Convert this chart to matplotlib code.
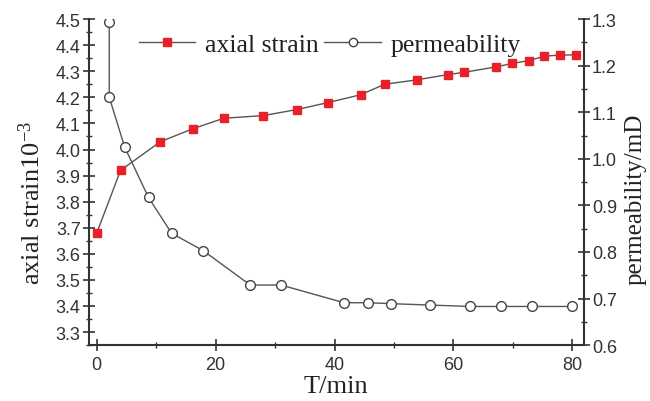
import matplotlib
matplotlib.use("Agg")
import matplotlib.pyplot as plt
from matplotlib.ticker import MultipleLocator
from matplotlib.lines import Line2D

# Data
T_strain = [0, 4.0, 10.7, 16.2, 21.4, 28.0, 33.6, 38.9, 44.4, 48.4, 53.8,
            59.0, 61.8, 67.2, 69.9, 72.7, 75.3, 77.9, 80.6]
strain = [3.68, 3.92, 4.03, 4.08, 4.12, 4.13, 4.153, 4.18, 4.21, 4.25, 4.267,
          4.287, 4.296, 4.317, 4.33, 4.341, 4.358, 4.362, 4.363]

T_perm = [2.1, 2.1, 4.7, 8.7, 12.6, 17.9, 25.8, 31.0, 41.6, 45.7, 49.5,
          56.1, 62.8, 68.0, 73.2, 80.0]
perm = [1.293, 1.132, 1.025, 0.917, 0.840, 0.803, 0.729, 0.729, 0.691, 0.691,
        0.689, 0.686, 0.683, 0.683, 0.683, 0.683]

x_ticks = [0, 20, 40, 60, 80]
left_ticks = [3.3, 3.4, 3.5, 3.6, 3.7, 3.8, 3.9, 4.0, 4.1, 4.2, 4.3, 4.4, 4.5]
right_ticks = [0.6, 0.7, 0.8, 0.9, 1.0, 1.1, 1.2, 1.3]

plt.rcParams["mathtext.fontset"] = "custom"
plt.rcParams["mathtext.rm"] = "Liberation Serif"
plt.rcParams["mathtext.it"] = "Liberation Serif:italic"
plt.rcParams["mathtext.bf"] = "Liberation Serif:bold"

serif = ["Liberation Serif", "DejaVu Serif"]
sans = ["Liberation Sans", "DejaVu Sans"]
axcol = "#333333"
linecol = "#555555"

fig = plt.figure(figsize=(6.5, 4.02), dpi=100)
ax = fig.add_axes([0.137, 0.139, 0.761, 0.811])
ax2 = ax.twinx()

ax.plot(T_strain, strain, color=linecol, lw=1.0, marker="s", ms=5.5,
        mfc="#e8202a", mec="#e8202a", zorder=3)
ax2.plot(T_perm, perm, color=linecol, lw=1.0, marker="o", ms=7,
         mfc="white", mec="#444444", mew=1.0, zorder=3)

ax.set_xlim(-1.3, 81.9)
ax.set_ylim(3.25, 4.5)
ax2.set_ylim(0.6, 1.3)

ax.set_xticks(x_ticks)
ax.set_yticks(left_ticks)
ax2.set_yticks(right_ticks)
ax.xaxis.set_minor_locator(MultipleLocator(10))
ax.yaxis.set_minor_locator(MultipleLocator(0.05))
ax2.yaxis.set_minor_locator(MultipleLocator(0.05))

for a in (ax, ax2):
    a.spines["top"].set_visible(False)
    for s in a.spines.values():
        s.set_color(axcol)
        s.set_linewidth(1.5)
    a.tick_params(which="major", direction="inout", length=8, width=1.2,
                  colors=axcol, labelsize=13)
    a.tick_params(which="minor", direction="inout", length=4, width=1.0,
                  colors=axcol)
ax.spines["right"].set_visible(False)
ax2.spines["left"].set_visible(False)
ax2.spines["bottom"].set_visible(False)
ax.tick_params(axis="y", pad=2)
ax2.tick_params(axis="y", pad=2)
ax.tick_params(axis="x", pad=4)

ax.set_yticklabels([f"{v:.1f}" for v in left_ticks], family=sans)
ax2.set_yticklabels([f"{v:.1f}" for v in right_ticks], family=sans)
ax.set_xticklabels([str(v) for v in x_ticks], family=sans)

ax.set_xlabel("T/min", family=serif, fontsize=19, color="#222222", labelpad=1)
ax.set_ylabel(r"axial strain10$^{\mathrm{-3}}$", family=serif, fontsize=19,
              color="#222222")
ax2.set_ylabel("permeability/mD", family=serif, fontsize=18, color="#222222")
ax.yaxis.set_label_coords(-0.089, 0.44)
ax2.yaxis.set_label_coords(1.083, 0.45)

h1 = Line2D([], [], color=linecol, lw=1.0, marker="s", ms=5.5,
            mfc="#e8202a", mec="#e8202a")
h2 = Line2D([], [], color=linecol, lw=1.0, marker="o", ms=6,
            mfc="white", mec="#444444")
leg = ax2.legend([h1, h2], ["axial strain", "permeability"], ncol=2,
                 frameon=False, loc="center", bbox_to_anchor=(0.487, 0.923),
                 prop={"family": serif, "size": 18.5}, handlelength=2.2,
                 handletextpad=0.4, columnspacing=0.2)
for t in leg.get_texts():
    t.set_color("#222222")

fig.savefig("out.png", dpi=100)
